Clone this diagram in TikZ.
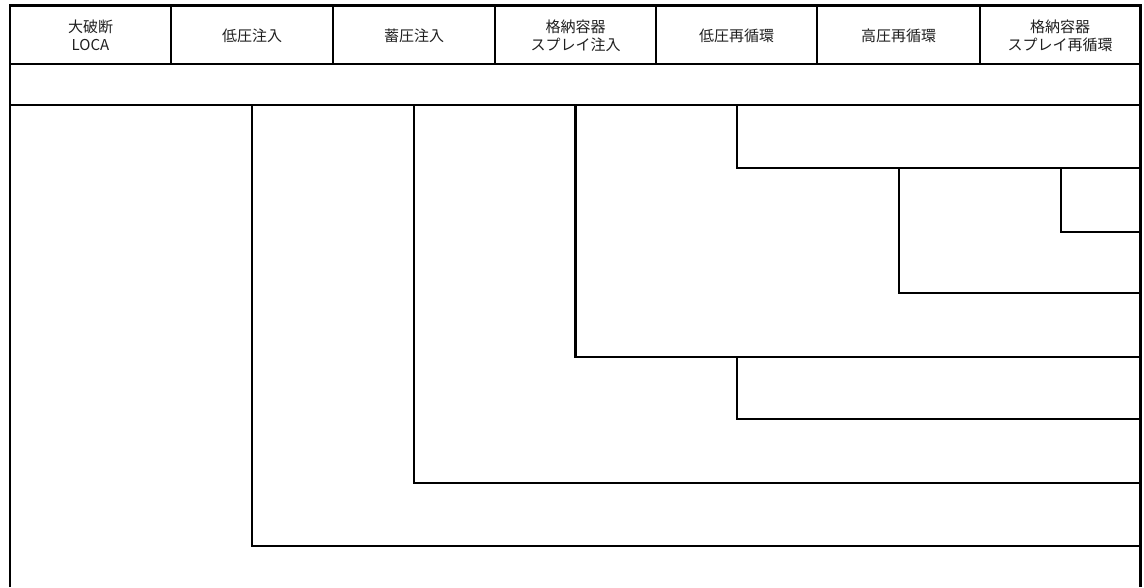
\documentclass[tikz,border=0pt]{standalone}
\usepackage{fontspec}
\setmainfont{Noto Sans CJK JP}
\begin{document}
\begin{tikzpicture}[x=1pt,y=-1pt,
  hdr/.style={inner sep=0pt,align=center,text=black!88,font=\fontsize{15}{18}\selectfont},
  grid/.style={line width=2.2pt,black},
  tree/.style={line width=2.6pt,black,line cap=rect}]
\useasboundingbox (0,0) rectangle (1144,587);
% outer frame (open at the bottom)
\draw[grid] (10,587) -- (10,5.5) -- (1140.5,5.5) -- (1140.5,587);
\draw[grid] (10,64) -- (1140.5,64);
\foreach \x in {171,333,495,656,817,980}{\draw[grid] (\x,5.5) -- (\x,64);}
% header texts
\node[hdr] (h1) at (90.5,35.5) {大破断\\LOCA};
\node[hdr] (h2) at (252,35.5) {低圧注入};
\node[hdr] (h3) at (414,35.5) {蓄圧注入};
\node[hdr] (h4) at (575.5,35.5) {格納容器\\スプレイ注入};
\node[hdr] (h5) at (736.5,35.5) {低圧再循環};
\node[hdr] (h6) at (898.5,35.5) {高圧再循環};
\node[hdr] (h7) at (1060,35.5) {格納容器\\スプレイ再循環};
% tree
\draw[tree] (10,105) -- (1140.5,105);
\draw[tree] (252,105) |- (1140.5,546);
\draw[tree] (414,105) |- (1140.5,483);
\draw[tree] (575.5,105) |- (1140.5,357);
\draw[tree] (737,105) |- (1140.5,168);
\draw[tree] (899,168) |- (1140.5,293);
\draw[tree] (1061,168) |- (1140.5,232);
\draw[tree] (737,357) |- (1140.5,419);
\end{tikzpicture}
\end{document}
